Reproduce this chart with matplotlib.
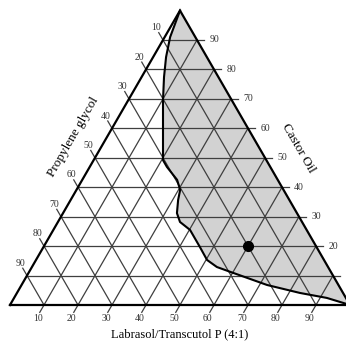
import numpy as np
import matplotlib
matplotlib.use("Agg")
import matplotlib.pyplot as plt

# boundary of the microemulsion region (percent)
castor_oil = [100, 91.0, 84.2, 77.4, 69.6, 60.4, 49.2, 46.9, 42.5, 39.1, 35.7,
              31.2, 28.2, 25.5, 19.7, 15.3, 12.9, 10.9, 6.8, 4.1, 2.4, 0]
labrasol = [0, 1.6, 3.8, 6.6, 10.2, 14.8, 20.4, 22.7, 27.9, 30.5, 31.6,
            33.5, 35.9, 40.2, 46.0, 50.3, 54.4, 60.2, 72.2, 83.2, 92.0, 100]

# selected formulation
point_labrasol = [60]
point_castor = [20]

ticks = [10, 20, 30, 40, 50, 60, 70, 80, 90]

S3 = np.sqrt(3) / 2


def to_xy(lab, cas):
    lab = np.asarray(lab, float) / 100
    cas = np.asarray(cas, float) / 100
    return lab + cas / 2, cas * S3


fig = plt.figure(figsize=(3.46, 3.42), dpi=100)
ax = fig.add_axes([0, 0, 1, 1])
ax.set_xlim(-10 / 340, 336 / 340)
ax.set_ylim(-37 / 340, 305 / 340)
ax.set_aspect("equal")
ax.axis("off")

serif = "Liberation Serif"
gc = "#3f3f3f"

# shaded region right of the curve
bx, by = to_xy(labrasol, castor_oil)
ax.fill(bx, by, color="#d2d2d2", zorder=1, lw=0)

# grid
for t in ticks:
    # castor oil constant (horizontal), extends right with tick
    x0, y0 = to_xy(0, t)
    x1, y1 = to_xy(100 - t, t)
    ax.plot([x0, x1 + 0.022], [y0, y1], color=gc, lw=0.9, zorder=2)
    ax.text(x1 + 0.05, y1, str(t), fontsize=7, family=serif, color="#333",
            ha="center", va="center")
    # labrasol constant (parallel to left edge), tick below base
    x0, y0 = to_xy(t, 0)
    x1, y1 = to_xy(t, 100 - t)
    ax.plot([x0 - 0.5 * 0.025, x1], [y0 - S3 * 0.025, y1], color=gc, lw=0.9, zorder=2)
    ax.text(x0 - 0.018, y0 - 0.04, str(t), fontsize=7, family=serif, color="#333",
            ha="center", va="center")
    # propylene glycol constant (parallel to right edge), tick up-left
    pg = t
    x0, y0 = to_xy(0, 100 - pg)
    x1, y1 = to_xy(100 - pg, 0)
    ax.plot([x0 - 0.5 * 0.025, x1], [y0 + S3 * 0.025, y1], color=gc, lw=0.9, zorder=2)
    ax.text(x0 - 0.02, y0 + 0.036, str(t), fontsize=7, family=serif, color="#333",
            ha="center", va="center")

# triangle outline
ax.plot([0, 1, 0.5, 0], [0, 0, S3, 0], color="black", lw=1.6, zorder=3,
        solid_joinstyle="miter")

# boundary curve
ax.plot(bx, by, color="black", lw=1.5, zorder=3)

# formulation point
px, py = to_xy(point_labrasol, point_castor)
ax.plot(px, py, "o", color="black", ms=7, zorder=4)

# axis titles
ax.text(0.5, -0.085, "Labrasol/Transcutol P (4:1)", fontsize=9, family=serif,
        ha="center", va="center")
ax.text(0.186, 0.493, "Propylene glycol", fontsize=9.5, family=serif,
        rotation=60, ha="center", va="center")
ax.text(0.847, 0.462, "Castor Oil", fontsize=9.5, family=serif,
        rotation=-60, ha="center", va="center")

fig.savefig("out.png", dpi=100)
